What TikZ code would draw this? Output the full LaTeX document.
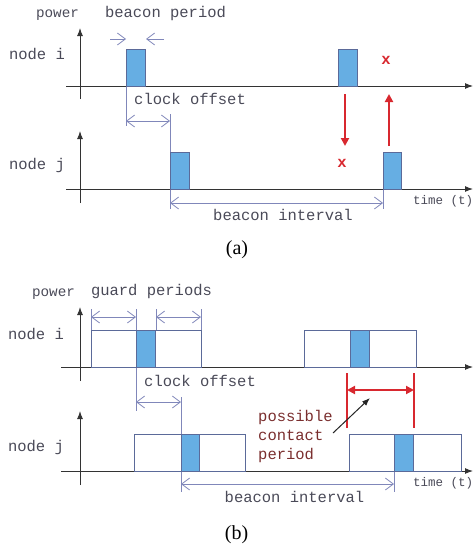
\documentclass[tikz,border=0pt]{standalone}
\usepackage{fontspec}
\setmainfont{Liberation Serif}
\newfontfamily\mono{Liberation Mono}
\usetikzlibrary{arrows.meta}
\definecolor{pulseblue}{HTML}{66AEE3}
\definecolor{boxedge}{HTML}{5B6A99}
\definecolor{dimc}{HTML}{8087BA}
\definecolor{redc}{HTML}{D8282F}
\definecolor{txt}{HTML}{4A4A58}
\definecolor{brownred}{HTML}{7A2E2E}
\tikzset{
  axis/.style={draw=black!80, line width=1pt, -{Latex[length=8pt,width=6pt]}},
  dimarrow/.style={draw=dimc, line width=0.8pt, {Straight Barb[length=8pt,width=12pt]}-{Straight Barb[length=8pt,width=12pt]}},
  dimone/.style={draw=dimc, line width=0.8pt, -{Straight Barb[length=8pt,width=12pt]}},
  tick/.style={draw=dimc, line width=0.8pt},
  pulse/.style={fill=pulseblue, draw=boxedge, line width=1pt},
  guardbox/.style={fill=white, draw=boxedge, line width=1pt},
  redarrow/.style={draw=redc, line width=2.5pt, -{Triangle[length=8pt,width=8pt]}},
  redline/.style={draw=redc, line width=1.5pt},
  reddbl/.style={draw=redc, line width=2.5pt, {Triangle[length=8pt,width=8pt]}-{Triangle[length=8pt,width=8pt]}},
  lbl/.style={text=txt, font=\mono\fontsize{15.5}{18}\selectfont, inner sep=0pt},
  smalllbl/.style={text=txt, font=\mono\fontsize{14.3}{17}\selectfont, inner sep=0pt},
  timelbl/.style={text=txt, font=\mono\fontsize{12.5}{15}\selectfont, inner sep=0pt},
  redx/.style={text=redc, font=\mono\bfseries\fontsize{15.5}{18}\selectfont, inner sep=0pt},
  caption/.style={font=\fontsize{20}{24}\selectfont, inner sep=0pt},
}
\begin{document}
\begin{tikzpicture}[x=1pt,y=-1pt]
\useasboundingbox (0,0) rectangle (475,546);
% ===================== (a) =====================
\coordinate (aiL) at (66,86); \coordinate (aiR) at (473,86);
\coordinate (aiVb) at (80,99); \coordinate (aiVt) at (80,28);
\draw[axis] (aiL) -- (aiR);
\draw[axis] (aiVb) -- (aiVt);
\coordinate (ajL) at (66,189); \coordinate (ajR) at (473,189);
\coordinate (ajVb) at (80,203); \coordinate (ajVt) at (80,131);
\draw[axis] (ajL) -- (ajR);
\draw[axis] (ajVb) -- (ajVt);
% ticks
\coordinate (t1a) at (126,86); \coordinate (t1b) at (126,126);
\coordinate (t2a) at (170,114); \coordinate (t2b) at (170,209);
\coordinate (t3a) at (383,189); \coordinate (t3b) at (383,209);
\draw[tick] (t1a) -- (t1b);
\draw[tick] (t2a) -- (t2b);
\draw[tick] (t3a) -- (t3b);
% pulses
\draw[pulse] (126,49) rectangle (145,86);
\draw[pulse] (338,49) rectangle (357,86);
\draw[pulse] (170,152) rectangle (189,189);
\draw[pulse] (383,152) rectangle (401,189);
% beacon period arrows
\coordinate (bp1s) at (110,39); \coordinate (bp1e) at (126,39);
\coordinate (bp2s) at (164,39); \coordinate (bp2e) at (146,39);
\draw[dimone] (bp1s) -- (bp1e);
\draw[dimone] (bp2s) -- (bp2e);
% clock offset arrow
\coordinate (coa) at (126,121); \coordinate (cob) at (170,121);
\draw[dimarrow] (coa) -- (cob);
% beacon interval arrow
\coordinate (bia) at (170,203); \coordinate (bib) at (383,203);
\draw[dimarrow] (bia) -- (bib);
% red arrows
\coordinate (rd1) at (345,94); \coordinate (rd2) at (345,146);
\coordinate (ru1) at (389,146); \coordinate (ru2) at (389,94);
\draw[redarrow] (rd1) -- (rd2);
\draw[redarrow] (ru1) -- (ru2);
% labels
\node[smalllbl, anchor=mid] (apower) at (57.5,15) {power};
\node[lbl, anchor=mid] (abp) at (165.5,15) {beacon period};
\node[lbl, anchor=mid] (ani) at (37,57) {node i};
\node[lbl, anchor=mid] (anj) at (37,167) {node j};
\node[lbl, anchor=mid west] (aco) at (134,102) {clock offset};
\node[lbl, anchor=mid] (abi) at (283,218) {beacon interval};
\node[timelbl, anchor=mid west] (atime) at (413,202) {time (t)};
\node[redx, anchor=mid] (ax1) at (386,62) {x};
\node[redx, anchor=mid] (ax2) at (342,165) {x};
\node[caption, anchor=base] (capa) at (237,254) {(a)};
% ===================== (b) =====================
\coordinate (biL) at (61,367); \coordinate (biR) at (473,367);
\coordinate (biVb) at (80,381); \coordinate (biVt) at (80,307);
\draw[axis] (biL) -- (biR);
\draw[axis] (biVb) -- (biVt);
\coordinate (bjL) at (61,471); \coordinate (bjR) at (473,471);
\coordinate (bjVb) at (80,485); \coordinate (bjVt) at (80,411);
\draw[axis] (bjL) -- (bjR);
\draw[axis] (bjVb) -- (bjVt);
% guard ticks
\foreach \x/\n in {91/ga,136/gb,156/gc,201/gd}{
  \coordinate (\n1) at (\x,309); \coordinate (\n2) at (\x,330);
  \draw[tick] (\n1) -- (\n2);
}
\coordinate (gt1) at (136,367); \coordinate (gt2) at (136,411);
\draw[tick] (gt1) -- (gt2);
\coordinate (gt3) at (181,397); \coordinate (gt4) at (181,492);
\draw[tick] (gt3) -- (gt4);
\coordinate (gt5) at (394,471); \coordinate (gt6) at (394,492);
\draw[tick] (gt5) -- (gt6);
% boxes
\draw[guardbox] (91,330) rectangle (201,367);
\draw[pulse] (136,330) rectangle (155,367);
\draw[guardbox] (304,330) rectangle (416,367);
\draw[pulse] (350,330) rectangle (369,367);
\draw[guardbox] (134,434) rectangle (245,471);
\draw[pulse] (181,434) rectangle (199,471);
\draw[guardbox] (349,434) rectangle (461,471);
\draw[pulse] (394,434) rectangle (413,471);
% guard arrows
\coordinate (gpa1) at (91,317); \coordinate (gpa2) at (136,317);
\coordinate (gpb1) at (156,317); \coordinate (gpb2) at (201,317);
\draw[dimarrow] (gpa1) -- (gpa2);
\draw[dimarrow] (gpb1) -- (gpb2);
% clock offset arrow
\coordinate (bcoa) at (136,402); \coordinate (bcob) at (181,402);
\draw[dimarrow] (bcoa) -- (bcob);
% beacon interval
\coordinate (bbia) at (181,484); \coordinate (bbib) at (394,484);
\draw[dimarrow] (bbia) -- (bbib);
% red contact period
\coordinate (rl1a) at (347,373); \coordinate (rl1b) at (347,428);
\coordinate (rl2a) at (414,373); \coordinate (rl2b) at (414,428);
\draw[redline] (rl1a) -- (rl1b);
\draw[redline] (rl2a) -- (rl2b);
\coordinate (rda) at (347,390); \coordinate (rdb) at (414,390);
\draw[reddbl] (rda) -- (rdb);
\coordinate (pa1) at (333,433); \coordinate (pa2) at (370,398);
\draw[draw=black!85, line width=1pt, -{Latex[length=8pt,width=6pt]}] (pa1) -- (pa2);
% labels
\node[smalllbl, anchor=mid] (bpower) at (53.5,294) {power};
\node[lbl, anchor=mid] (bgp) at (151.5,293) {guard periods};
\node[lbl, anchor=mid] (bni) at (36,337) {node i};
\node[lbl, anchor=mid] (bnj) at (36,449) {node j};
\node[lbl, anchor=mid west] (bco) at (144,384) {clock offset};
\node[lbl, anchor=mid] (bbi) at (294.5,500) {beacon interval};
\node[timelbl, anchor=mid west] (btime) at (413,484) {time (t)};
\node[lbl, text=brownred, anchor=mid west] (pc1) at (258,419) {possible};
\node[lbl, text=brownred, anchor=mid west] (pc2) at (258,438) {contact};
\node[lbl, text=brownred, anchor=mid west] (pc3) at (258,457) {period};
\node[caption, anchor=base] (capb) at (236.5,539) {(b)};
\end{tikzpicture}
\end{document}
